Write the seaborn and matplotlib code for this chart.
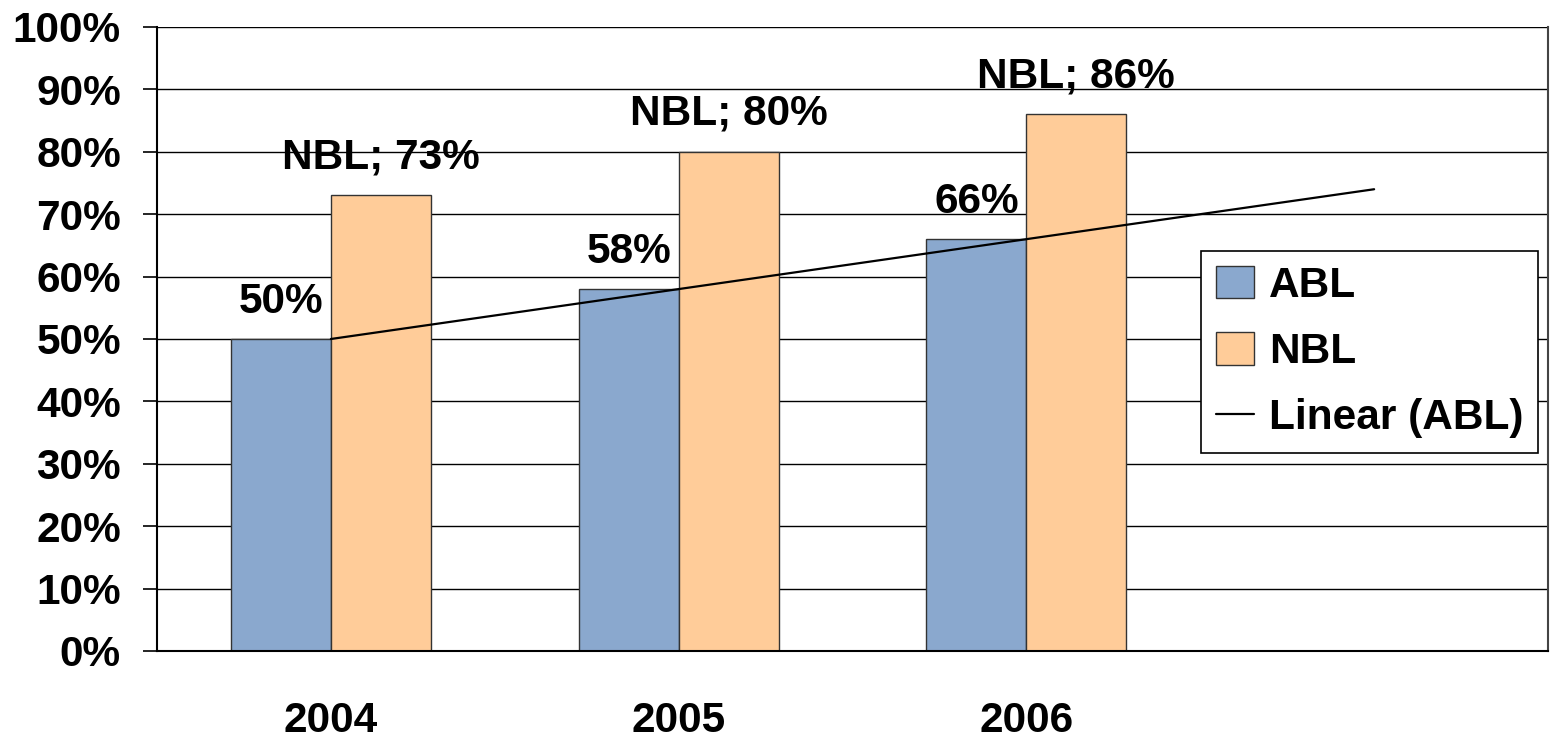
import numpy as np
import pandas as pd
import matplotlib
matplotlib.use("Agg")
import matplotlib.pyplot as plt
import seaborn as sns
from matplotlib.ticker import FixedLocator, FuncFormatter

years = ["2004", "2005", "2006"]
abl = [50, 58, 66]
nbl = [73, 80, 86]
abl_labels = ["50%", "58%", "66%"]
nbl_labels = ["NBL; 73%", "NBL; 80%", "NBL; 86%"]

sns.set_style("white")
plt.rcParams["font.family"] = ["Liberation Sans", "DejaVu Sans"]
plt.rcParams["font.weight"] = "bold"
plt.rcParams["text.color"] = "black"
plt.rcParams["xtick.color"] = "black"
plt.rcParams["ytick.color"] = "black"

FS = 30.5

df = pd.DataFrame({
    "year": years * 2,
    "value": abl + nbl,
    "series": ["ABL"] * 3 + ["NBL"] * 3,
})

fig = plt.figure(figsize=(15.5, 7.4), dpi=100)
ax = fig.add_axes([157 / 1550, 1 - 651 / 740, 1391 / 1550, 624 / 740])

sns.barplot(data=df, x="year", y="value", hue="series", order=years,
            palette={"ABL": "#8AA8CE", "NBL": "#FFCC99"}, width=0.575,
            edgecolor="#333333", linewidth=1.0, saturation=1, ax=ax)

# linear trend of ABL, forecast one period forward
xs = np.arange(len(abl))
slope, icpt = np.polyfit(xs, abl, 1)
trend_x = np.array([0, len(abl)])
trend_y = icpt + slope * trend_x
sns.lineplot(x=trend_x, y=trend_y, color="black", linewidth=1.6,
             label="Linear (ABL)", ax=ax)

ax.bar_label(ax.containers[0], labels=abl_labels, padding=12,
             fontsize=FS, fontweight="bold", color="black")
ax.bar_label(ax.containers[1], labels=nbl_labels, padding=13,
             fontsize=FS, fontweight="bold", color="black")

ax.set_xlim(-0.5, 3.5)
ax.set_ylim(0, 100)
ax.set_yticks(np.arange(0, 101, 10))
ax.yaxis.set_major_formatter(FuncFormatter(lambda v, p: f"{int(v)}%"))
ax.set_xticks(range(len(years)))
ax.set_xticklabels(years)
ax.xaxis.set_minor_locator(FixedLocator([-0.5, 0.5, 1.5, 2.5, 3.5]))
ax.tick_params(axis="x", which="major", length=0, pad=36, labelsize=FS)
ax.tick_params(axis="x", which="minor", length=10, width=1.2, color="#444444")
ax.tick_params(axis="y", length=10, width=1.2, color="black", pad=16, labelsize=FS, left=True)
for lab in ax.get_xticklabels() + ax.get_yticklabels():
    lab.set_fontweight("bold")
    lab.set_color("black")

ax.grid(axis="y", color="black", linewidth=1.0)
ax.set_axisbelow(True)
ax.set_xlabel("")
ax.set_ylabel("")
ax.spines["top"].set_visible(False)
for s in ["left", "bottom", "right"]:
    ax.spines[s].set_color("black")
    ax.spines[s].set_linewidth(1.5)
ax.spines["right"].set_color("#444444")

handles, labels = ax.get_legend_handles_labels()
leg = ax.legend(handles, labels, loc="upper left", bbox_to_anchor=(0.7505, 0.641),
                borderaxespad=0, frameon=True, fancybox=False, shadow=False,
                prop={"size": FS, "weight": "bold"}, handlelength=0.9,
                handleheight=0.8, handletextpad=0.35, labelspacing=0.62,
                borderpad=0.35)
leg.get_frame().set_edgecolor("black")
leg.get_frame().set_linewidth(1.2)
leg.get_frame().set_alpha(1)
for t in leg.get_texts():
    t.set_color("black")

fig.savefig("out.png", dpi=100)
